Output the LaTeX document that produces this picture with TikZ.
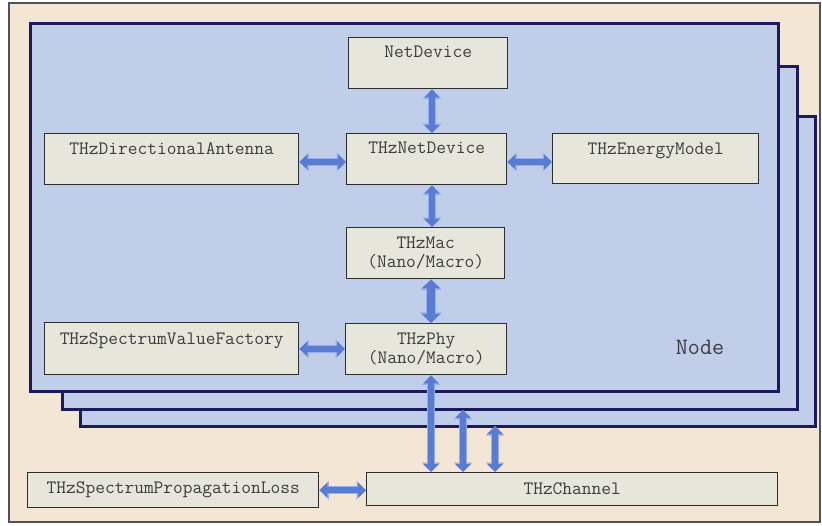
\documentclass[tikz,border=0pt]{standalone}
\usepackage{fontspec}
\usetikzlibrary{arrows.meta}
\definecolor{bgbeige}{RGB}{244,230,213}
\definecolor{framegray}{RGB}{80,80,95}
\definecolor{layerblue}{RGB}{192,206,234}
\definecolor{navy}{RGB}{28,26,92}
\definecolor{boxfill}{RGB}{230,230,218}
\definecolor{boxline}{RGB}{45,45,45}
\definecolor{txtgray}{RGB}{60,60,60}
\definecolor{arrdark}{RGB}{88,124,212}
\definecolor{arrlight}{RGB}{150,174,236}
\tikzset{
  layer/.style={draw=navy, fill=layerblue, line width=3pt, anchor=north west, inner sep=0pt},
  box/.style={draw=boxline, fill=boxfill, line width=1.4pt, anchor=north west, inner sep=0pt,
    font=\fontsize{18.9}{19}\selectfont\ttfamily, text=txtgray, align=center},
  barrow/.style={draw=arrdark, line width=6pt,
    {Triangle[length=8pt,width=15pt]}-{Triangle[length=8pt,width=15pt]},
    preaction={draw=arrlight, line width=8pt,
    {Triangle[length=9.5pt,width=18pt]}-{Triangle[length=9.5pt,width=18pt]}}},
  bigarrow/.style={draw=arrdark, line width=8pt,
    {Triangle[length=9pt,width=18pt]}-{Triangle[length=9pt,width=18pt]},
    preaction={draw=arrlight, line width=10pt,
    {Triangle[length=10.5pt,width=21pt]}-{Triangle[length=10.5pt,width=21pt]}}}
}
\begin{document}
\begin{tikzpicture}[x=1pt,y=-1pt]
\useasboundingbox (0,0) rectangle (822,526);
\fill[white] (0,0) rectangle (822,526);
\draw[fill=bgbeige, draw=framegray, line width=1.4pt] (9,3) rectangle (820,522);
% stacked node layers
\node[layer, minimum width=735pt, minimum height=310pt] (L3) at (79,115) {};
\node[layer, minimum width=735pt, minimum height=343pt] (L2) at (61,65) {};
\node[layer, minimum width=748pt, minimum height=368pt] (L1) at (29,22) {};
\node[font=\fontsize{23.4}{26}\selectfont\ttfamily, text=txtgray] (nodelbl) at (700,347) {Node};
% boxes
\node[box, minimum width=159pt, text width=159pt, text height=20pt, text depth=31pt] (nd) at (348,37) {NetDevice};
\node[box, minimum width=160pt, text width=160pt, text height=20pt, text depth=31pt] (tnd) at (346,133) {THzNetDevice};
\node[box, minimum width=254pt, text width=254pt, text height=21pt, text depth=30pt] (dir) at (44,133) {THzDirectionalAntenna};
\node[box, minimum width=206pt, text width=206pt, text height=21pt, text depth=29pt] (em) at (552,133) {THzEnergyModel};
\node[box, minimum width=158pt, text width=158pt, minimum height=51pt] (mac) at (346,227) {THzMac\\(Nano/Macro)};
\node[box, minimum width=161pt, text width=161pt, minimum height=51pt] (phy) at (345,323) {THzPhy\\(Nano/Macro)};
\node[box, minimum width=254pt, text width=254pt, text height=22pt, text depth=30pt] (svf) at (44,322) {THzSpectrumValueFactory};
\node[box, minimum width=291pt, text width=291pt, minimum height=35pt] (pl) at (27,472) {THzSpectrumPropagationLoss};
\node[box, minimum width=411pt, text width=411pt, minimum height=33pt] (ch) at (366,472) {THzChannel};
% connectors
\draw[barrow] (432,0 |- nd.south) -- (432,0 |- tnd.north);
\draw[barrow] (432,0 |- tnd.south) -- (432,0 |- mac.north);
\draw[bigarrow] (431,0 |- mac.south) -- (431,0 |- phy.north);
\draw[barrow] (431,0 |- phy.south) -- (431,0 |- ch.north);
\coordinate (c2) at (463,410);
\coordinate (c3) at (495,426);
\draw[barrow] (c2) -- (c2 |- ch.north);
\draw[barrow] (c3) -- (c3 |- ch.north);
\draw[barrow] (dir.east |- 0,162) -- (tnd.west |- 0,162);
\draw[barrow] (tnd.east |- 0,162) -- (em.west |- 0,162);
\draw[barrow] (svf.east |- 0,349) -- (phy.west |- 0,349);
\draw[barrow] (pl.east) -- (pl.east -| ch.west);
\end{tikzpicture}
\end{document}
